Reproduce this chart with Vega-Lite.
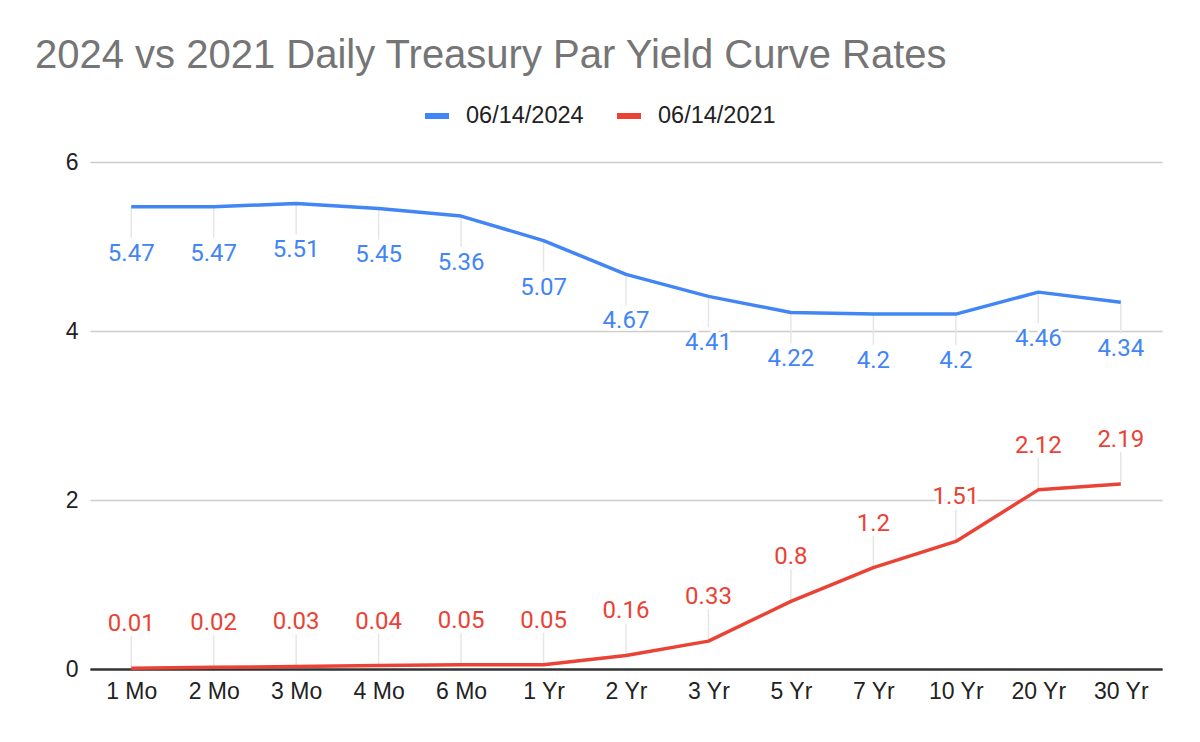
{
  "$schema": "https://vega.github.io/schema/vega-lite/v6.json",
  "autosize": "none",
  "width": 1072,
  "height": 507,
  "padding": {"left": 90, "top": 162, "right": 38, "bottom": 73},
  "background": "white",
  "title": {
    "text": "2024 vs 2021 Daily Treasury Par Yield Curve Rates",
    "anchor": "start",
    "frame": "group",
    "dx": -55,
    "offset": 25,
    "font": "Liberation Sans",
    "fontSize": 40,
    "fontWeight": "normal",
    "color": "#757575"
  },
  "config": {
    "view": {"stroke": null},
    "font": "Liberation Sans"
  },
  "data": {
    "values": [
      {"term": "1 Mo", "series": "06/14/2024", "value": 5.47},
      {"term": "2 Mo", "series": "06/14/2024", "value": 5.47},
      {"term": "3 Mo", "series": "06/14/2024", "value": 5.51},
      {"term": "4 Mo", "series": "06/14/2024", "value": 5.45},
      {"term": "6 Mo", "series": "06/14/2024", "value": 5.36},
      {"term": "1 Yr", "series": "06/14/2024", "value": 5.07},
      {"term": "2 Yr", "series": "06/14/2024", "value": 4.67},
      {"term": "3 Yr", "series": "06/14/2024", "value": 4.41},
      {"term": "5 Yr", "series": "06/14/2024", "value": 4.22},
      {"term": "7 Yr", "series": "06/14/2024", "value": 4.2},
      {"term": "10 Yr", "series": "06/14/2024", "value": 4.2},
      {"term": "20 Yr", "series": "06/14/2024", "value": 4.46},
      {"term": "30 Yr", "series": "06/14/2024", "value": 4.34},
      {"term": "1 Mo", "series": "06/14/2021", "value": 0.01},
      {"term": "2 Mo", "series": "06/14/2021", "value": 0.02},
      {"term": "3 Mo", "series": "06/14/2021", "value": 0.03},
      {"term": "4 Mo", "series": "06/14/2021", "value": 0.04},
      {"term": "6 Mo", "series": "06/14/2021", "value": 0.05},
      {"term": "1 Yr", "series": "06/14/2021", "value": 0.05},
      {"term": "2 Yr", "series": "06/14/2021", "value": 0.16},
      {"term": "3 Yr", "series": "06/14/2021", "value": 0.33},
      {"term": "5 Yr", "series": "06/14/2021", "value": 0.8},
      {"term": "7 Yr", "series": "06/14/2021", "value": 1.2},
      {"term": "10 Yr", "series": "06/14/2021", "value": 1.51},
      {"term": "20 Yr", "series": "06/14/2021", "value": 2.12},
      {"term": "30 Yr", "series": "06/14/2021", "value": 2.19}
    ]
  },
  "encoding": {
    "x": {
      "field": "term",
      "type": "ordinal",
      "sort": ["1 Mo", "2 Mo", "3 Mo", "4 Mo", "6 Mo", "1 Yr", "2 Yr", "3 Yr", "5 Yr", "7 Yr", "10 Yr", "20 Yr", "30 Yr"],
      "scale": {"type": "point", "padding": 0.5},
      "axis": {
        "title": null,
        "labelAngle": 0,
        "labelFont": "Liberation Sans",
        "labelFontSize": 23,
        "labelColor": "#222222",
        "labelPadding": 11,
        "ticks": false,
        "domainColor": "#333333",
        "domainWidth": 2,
        "grid": false
      }
    },
    "y": {
      "field": "value",
      "type": "quantitative",
      "scale": {"domain": [0, 6], "nice": false, "zero": true},
      "axis": {
        "title": null,
        "values": [0, 2, 4, 6],
        "labelFont": "Liberation Sans",
        "labelFontSize": 23,
        "labelColor": "#222222",
        "labelPadding": 12,
        "ticks": false,
        "domain": false,
        "grid": true,
        "gridColor": {"condition": {"test": "datum.value === 0", "value": "#333333"}, "value": "#cccccc"},
        "gridWidth": {"condition": {"test": "datum.value === 0", "value": 2}, "value": 1.5}
      }
    }
  },
  "layer": [
    {
      "transform": [{"filter": "datum.series === '06/14/2024'"}],
      "mark": {"type": "rule", "color": "#e6e6e6", "strokeWidth": 1.5, "y2Offset": 31},
      "encoding": {"y2": {"field": "value"}}
    },
    {
      "transform": [{"filter": "datum.series === '06/14/2021'"}],
      "mark": {"type": "rule", "color": "#e6e6e6", "strokeWidth": 1.5, "y2Offset": -32},
      "encoding": {"y2": {"field": "value"}}
    },
    {
      "mark": {"type": "line", "strokeWidth": 3.5, "strokeJoin": "round"},
      "encoding": {
        "color": {
          "field": "series",
          "type": "nominal",
          "sort": ["06/14/2024", "06/14/2021"],
          "scale": {"domain": ["06/14/2024", "06/14/2021"], "range": ["#4285F4", "#EA4335"]},
          "legend": {
            "title": null,
            "orient": "none",
            "direction": "horizontal",
            "legendX": 332,
            "legendY": -61,
            "symbolType": "stroke",
            "symbolSize": 576,
            "symbolStrokeWidth": 6,
            "labelFont": "Liberation Sans",
            "labelFontSize": 23.5,
            "labelColor": "#222222",
            "labelOffset": 14,
            "columnPadding": 21
          }
        }
      }
    },
    {
      "transform": [{"filter": "datum.series === '06/14/2024'"}],
      "mark": {"type": "text", "font": "Roboto", "fontSize": 24, "dy": 47, "baseline": "middle", "color": "white", "stroke": "white", "strokeWidth": 6, "strokeJoin": "round"},
      "encoding": {"text": {"field": "value", "type": "quantitative", "format": ".2~f"}}
    },
    {
      "transform": [{"filter": "datum.series === '06/14/2021'"}],
      "mark": {"type": "text", "font": "Roboto", "fontSize": 24, "dy": -44, "baseline": "middle", "color": "white", "stroke": "white", "strokeWidth": 6, "strokeJoin": "round"},
      "encoding": {"text": {"field": "value", "type": "quantitative", "format": ".2~f"}}
    },
    {
      "transform": [{"filter": "datum.series === '06/14/2024'"}],
      "mark": {"type": "text", "font": "Roboto", "fontSize": 24, "dy": 47, "baseline": "middle", "color": "#4285F4"},
      "encoding": {"text": {"field": "value", "type": "quantitative", "format": ".2~f"}}
    },
    {
      "transform": [{"filter": "datum.series === '06/14/2021'"}],
      "mark": {"type": "text", "font": "Roboto", "fontSize": 24, "dy": -44, "baseline": "middle", "color": "#EA4335"},
      "encoding": {"text": {"field": "value", "type": "quantitative", "format": ".2~f"}}
    }
  ]
}
